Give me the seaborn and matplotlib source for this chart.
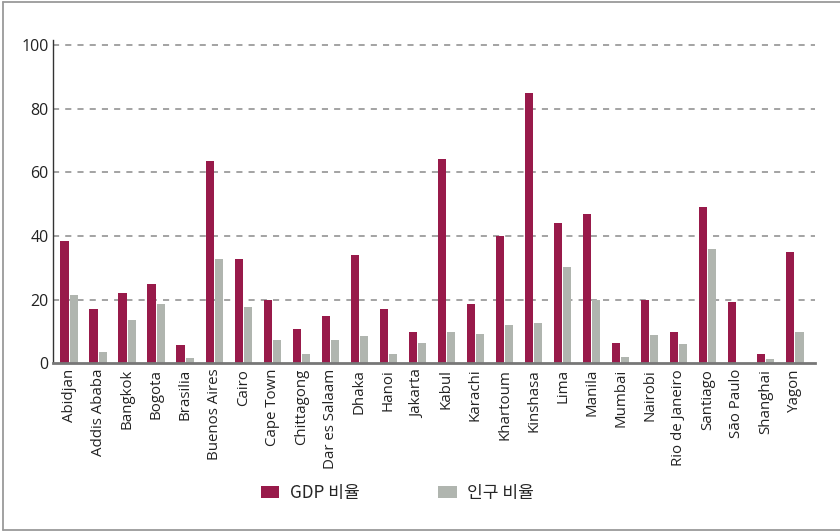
import matplotlib
matplotlib.use("Agg")
import matplotlib.pyplot as plt
import seaborn as sns
import pandas as pd
from matplotlib.lines import Line2D
from matplotlib.patches import Patch

cities = ["Abidjan", "Addis Ababa", "Bangkok", "Bogota", "Brasilia", "Buenos Aires",
          "Cairo", "Cape Town", "Chittagong", "Dar es Salaam", "Dhaka", "Hanoi",
          "Jakarta", "Kabul", "Karachi", "Khartoum", "Kinshasa", "Lima", "Manila",
          "Mumbai", "Nairobi", "Rio de Janeiro", "Santiago", "São Paulo", "Shanghai",
          "Yagon"]
gdp = [38.4, 17.1, 22.1, 24.9, 5.8, 63.6, 32.8, 19.9, 10.8, 14.9, 34.0, 17.1,
       9.8, 64.2, 18.6, 40.0, 84.9, 44.1, 46.9, 6.4, 19.9, 9.8, 49.1, 19.3, 2.9, 35.0]
pop = [21.5, 3.6, 13.6, 18.6, 1.7, 32.8, 17.7, 7.3, 2.9, 7.3, 8.6, 2.9,
       6.4, 9.8, 9.2, 12.0, 12.7, 30.3, 19.9, 2.0, 8.9, 6.1, 35.9, 0.0, 1.4, 9.8]
series = ["GDP 비율", "인구 비율"]
colors = ["#981A4A", "#B0B5AF"]

df = pd.DataFrame({
    "city": cities * 2,
    "value": gdp + pop,
    "series": [series[0]] * len(cities) + [series[1]] * len(cities),
})

sns.set_style("white")
plt.rcParams["font.family"] = ["Noto Sans CJK KR", "DejaVu Sans"]

fig = plt.figure(figsize=(8.4, 5.31), dpi=100)
ax = fig.add_axes([53 / 840, 1 - 363.3 / 531, (815 - 53) / 840, (363.3 - 40) / 531])

sns.barplot(data=df, x="city", y="value", hue="series", palette=colors,
            order=cities, hue_order=series, width=0.63, gap=0.07,
            saturation=1, ax=ax, legend=False, edgecolor="none")

ax.set_ylim(0, 101.6)
n = len(cities)
ax.set_xlim(-0.56, n - 1 + 0.7)
ax.set_yticks([0, 20, 40, 60, 80, 100])
ax.set_yticklabels(["0", "20", "40", "60", "80", "100"], fontsize=11.5, color="#222222",
                   family=["Open Sans", "DejaVu Sans"])
ax.tick_params(axis="y", length=0, pad=3)
ax.tick_params(axis="x", length=0, pad=4)
ax.set_xticks(range(n))
ax.set_xticklabels(cities, rotation=90, fontsize=10.8, color="#222222",
                   family=["Open Sans", "DejaVu Sans"])
ax.set_xlabel("")
ax.set_ylabel("")

for y in [20, 40, 60, 80, 100]:
    ax.axhline(y, color="#8a8a8a", lw=1.1, ls=(0, (4, 4)), zorder=0)

for s in ["top", "right"]:
    ax.spines[s].set_visible(False)
ax.spines["left"].set_color("#333333")
ax.spines["left"].set_linewidth(1.0)
ax.spines["bottom"].set_color("#777777")
ax.spines["bottom"].set_linewidth(2.0)

handles = [Patch(facecolor=c, edgecolor="none") for c in colors]
fig.legend(handles, series, loc="center", bbox_to_anchor=(0.473, 1 - 493 / 531),
           ncol=2, frameon=False, fontsize=12.3, handlelength=1.1, handleheight=0.75,
           columnspacing=4.6, handletextpad=0.6)

# outer frame (top, left, bottom)
fig.add_artist(Line2D([2.5 / 840, 1], [1 - 1.5 / 531, 1 - 1.5 / 531], color="#9a9a9a", lw=1.3,
                      transform=fig.transFigure))
fig.add_artist(Line2D([2.5 / 840, 2.5 / 840], [1 - 1.5 / 531, 1 - 529.5 / 531], color="#9a9a9a",
                      lw=1.3, transform=fig.transFigure))
fig.add_artist(Line2D([2.5 / 840, 1], [1 - 529.5 / 531, 1 - 529.5 / 531], color="#9a9a9a",
                      lw=1.3, transform=fig.transFigure))

fig.savefig("out.png", dpi=100)
